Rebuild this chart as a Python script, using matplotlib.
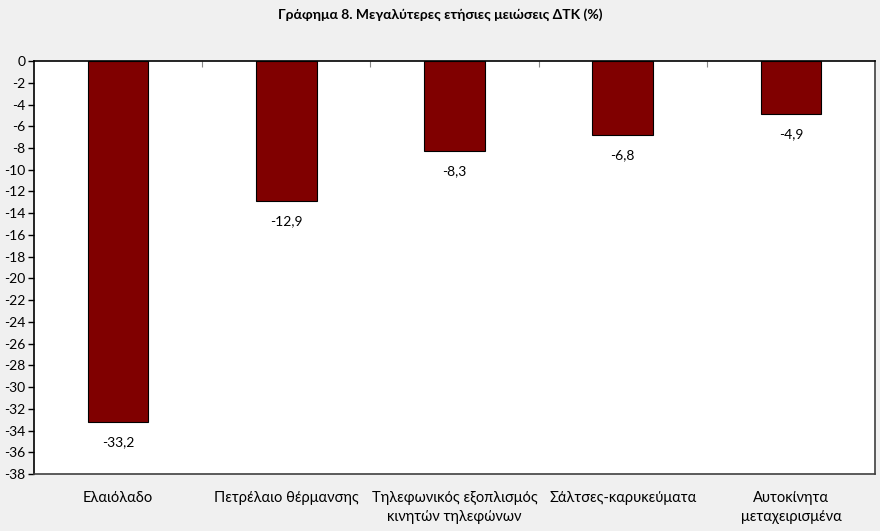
import matplotlib.pyplot as plt
import numpy as np

plt.rcParams['font.family'] = ['Lato', 'Noto Sans', 'DejaVu Sans']

# Δεδομένα
categories = ['Ελαιόλαδο', 'Πετρέλαιο θέρμανσης', 'Τηλεφωνικός εξοπλισμός\nκινητών τηλεφώνων',
              'Σάλτσες-καρυκεύματα', 'Αυτοκίνητα\nμεταχειρισμένα']
values = [-33.2, -12.9, -8.3, -6.8, -4.9]
yticks = list(range(0, -40, -2))

fig = plt.figure(figsize=(8.8, 5.31), dpi=100, facecolor='#f0f0f0')
ax = fig.add_axes([0.0386, 0.1073, 0.9557, 0.7777])
ax.set_facecolor('white')

x = np.arange(len(categories))
ax.bar(x, values, width=0.36, color='#800000', edgecolor='black', linewidth=0.8, zorder=3)

for xi, v in zip(x, values):
    ax.annotate(f'{v:.1f}'.replace('.', ','), (xi, v), xytext=(0, -10), textcoords='offset points',
                ha='center', va='top', fontsize=10)

ax.set_xlim(-0.5, len(categories) - 0.5)
ax.set_ylim(-38, 0)
ax.set_yticks(yticks)
ax.set_yticklabels([str(t) for t in yticks], fontsize=10)
ax.tick_params(axis='y', direction='out', length=4, width=1, pad=2)

ax.set_xticks(x)
ax.set_xticklabels(categories, fontsize=10.5, linespacing=1.5, va='top')
ax.tick_params(axis='x', length=0, pad=12)

# μικρές υποδιαιρέσεις στον άξονα στο μηδέν
top = ax.secondary_xaxis('top')
top.set_xticks(np.arange(0.5, len(categories) - 1, 1))
top.set_xticklabels([])
top.tick_params(direction='in', length=4, color='#888888')
top.spines['top'].set_visible(False)

ax.spines['top'].set_color('black')
ax.spines['top'].set_linewidth(1.2)
ax.spines['left'].set_color('black')
ax.spines['left'].set_linewidth(1.2)
ax.spines['right'].set_color('#404040')
ax.spines['bottom'].set_color('#404040')
ax.spines['right'].set_linewidth(1.2)
ax.spines['bottom'].set_linewidth(1.2)

fig.suptitle('Γράφημα 8. Μεγαλύτερες ετήσιες μειώσεις ΔΤΚ (%)', x=0.5, y=0.985,
             fontsize=10, fontweight='bold', va='top')

plt.savefig('out.png', dpi=100, facecolor=fig.get_facecolor())
